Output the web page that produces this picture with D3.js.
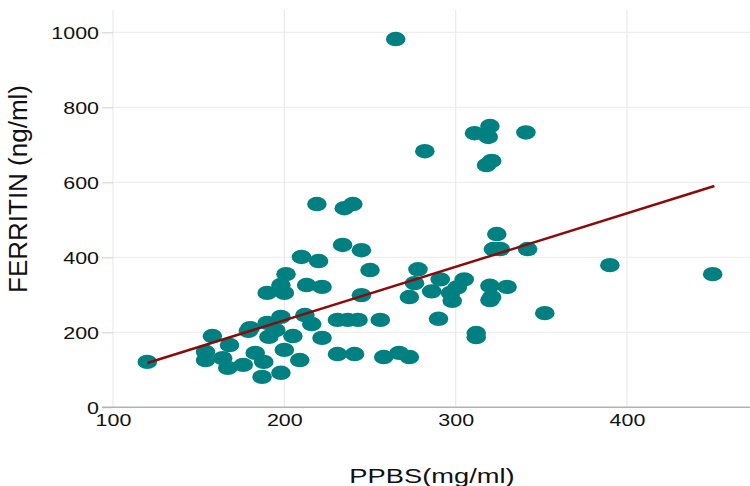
<!DOCTYPE html>
<html>
<head>
<meta charset="utf-8">
<script src="https://cdn.jsdelivr.net/npm/d3@7"></script>
<style>
  html, body { margin: 0; padding: 0; background: #fff; }
  svg { display: block; }
  text { font-family: "Liberation Sans", Arial, sans-serif; fill: #111; }
</style>
</head>
<body>
<svg id="chart" width="750" height="486"></svg>
<script>
// ---- data ----
const ppbs = [120,265,282,311,320,319,341,318,321,219,235,240,234,245,210,220,250,201,278,198,
  190,200,213,222,245,324,322,326,342,390,450,276,273,286,291,305,301,297,298,290,
  312,312,320,321,320,330,352,267,273,258,256,231,237,243,212,216,198,190,180,222,
  205,231,241,158,168,154,154,164,167,176,179,191,195,200,183,188,187,198,209];
const ferritin = [121,982,683,731,750,721,733,646,657,542,531,542,433,419,401,390,366,355,368,326,
  305,305,326,321,299,462,422,422,422,379,355,331,294,309,341,341,320,305,284,236,
  198,187,324,294,286,321,251,145,134,134,233,233,233,233,246,222,241,225,211,185,
  190,142,142,190,166,148,126,131,105,113,204,188,206,153,145,121,81,92,126];
const fitX = [120, 451];
const fitY = [118, 590];
const xTicks = [100, 200, 300, 400];
const yTicks = [0, 200, 400, 600, 800, 1000];
const xTitle = "PPBS(mg/ml)";
const yTitle = "FERRITIN (ng/ml)";

// ---- layout ----
const plotLeft = 113, plotRight = 750, plotTop = 10, plotBottom = 407.3;
const sx = 1.3; // horizontal text stretch seen in reference

const x = d3.scaleLinear().domain([100, 400]).range([113, 627]);
const y = d3.scaleLinear().domain([0, 1000]).range([407.3, 32.3]);

const svg = d3.select("#chart");

// grid
const grid = svg.append("g");
grid.selectAll("line.v").data(xTicks).enter().append("line")
  .attr("x1", d => x(d)).attr("x2", d => x(d))
  .attr("y1", plotTop).attr("y2", plotBottom)
  .attr("stroke", "#ececec").attr("stroke-width", 1.3);
grid.selectAll("line.h").data(yTicks.filter(d => d > 0)).enter().append("line")
  .attr("x1", plotLeft).attr("x2", plotRight)
  .attr("y1", d => y(d)).attr("y2", d => y(d))
  .attr("stroke", "#ececec").attr("stroke-width", 1);

// y axis
const yAxis = svg.append("g").attr("transform", `translate(${plotLeft},0)`)
  .call(d3.axisLeft(y).tickValues(yTicks).tickSize(11).tickFormat(d3.format("d")));
yAxis.select(".domain").remove();
yAxis.selectAll(".tick line").attr("stroke", "#cfcfcf");
yAxis.selectAll(".tick text")
  .attr("x", -14 / sx).attr("dy", "0.36em")
  .attr("transform", `scale(${sx},1)`)
  .style("font-size", "16.5px").style("font-family", "Liberation Sans, Arial, sans-serif")
  .attr("fill", "#111");

// x axis
const xAxis = svg.append("g").attr("transform", `translate(0,${plotBottom})`)
  .call(d3.axisBottom(x).tickValues(xTicks).tickSize(0).tickPadding(7).tickFormat(d3.format("d")));
xAxis.select(".domain").remove();
xAxis.selectAll(".tick text")
  .attr("transform", `scale(${sx},1)`)
  .style("font-size", "16.5px").style("font-family", "Liberation Sans, Arial, sans-serif")
  .attr("fill", "#111");

// axis line
svg.append("line")
  .attr("x1", 102).attr("x2", plotRight)
  .attr("y1", plotBottom).attr("y2", plotBottom)
  .attr("stroke", "#b3b3b3").attr("stroke-width", 1.5);

// points
const pts = ppbs.map((v, i) => ({ x: v, y: ferritin[i] }));
svg.append("g").selectAll("ellipse").data(pts).enter().append("ellipse")
  .attr("cx", d => x(d.x)).attr("cy", d => y(d.y))
  .attr("rx", 9.8).attr("ry", 7.2)
  .attr("fill", "#008080");

// fit line
const fit = fitX.map((v, i) => [v, fitY[i]]);
svg.append("path").datum(fit)
  .attr("d", d3.line().x(d => x(d[0])).y(d => y(d[1])))
  .attr("fill", "none").attr("stroke", "#8b0a0a").attr("stroke-width", 2.5);

// titles
svg.append("text")
  .attr("transform", `translate(432,483) scale(${sx},1)`)
  .attr("text-anchor", "middle")
  .style("font-size", "21px")
  .text(xTitle);

svg.append("text")
  .attr("transform", `translate(27,189) rotate(-90)`)
  .attr("text-anchor", "middle")
  .style("font-size", "26px")
  .text(yTitle);
</script>
</body>
</html>
